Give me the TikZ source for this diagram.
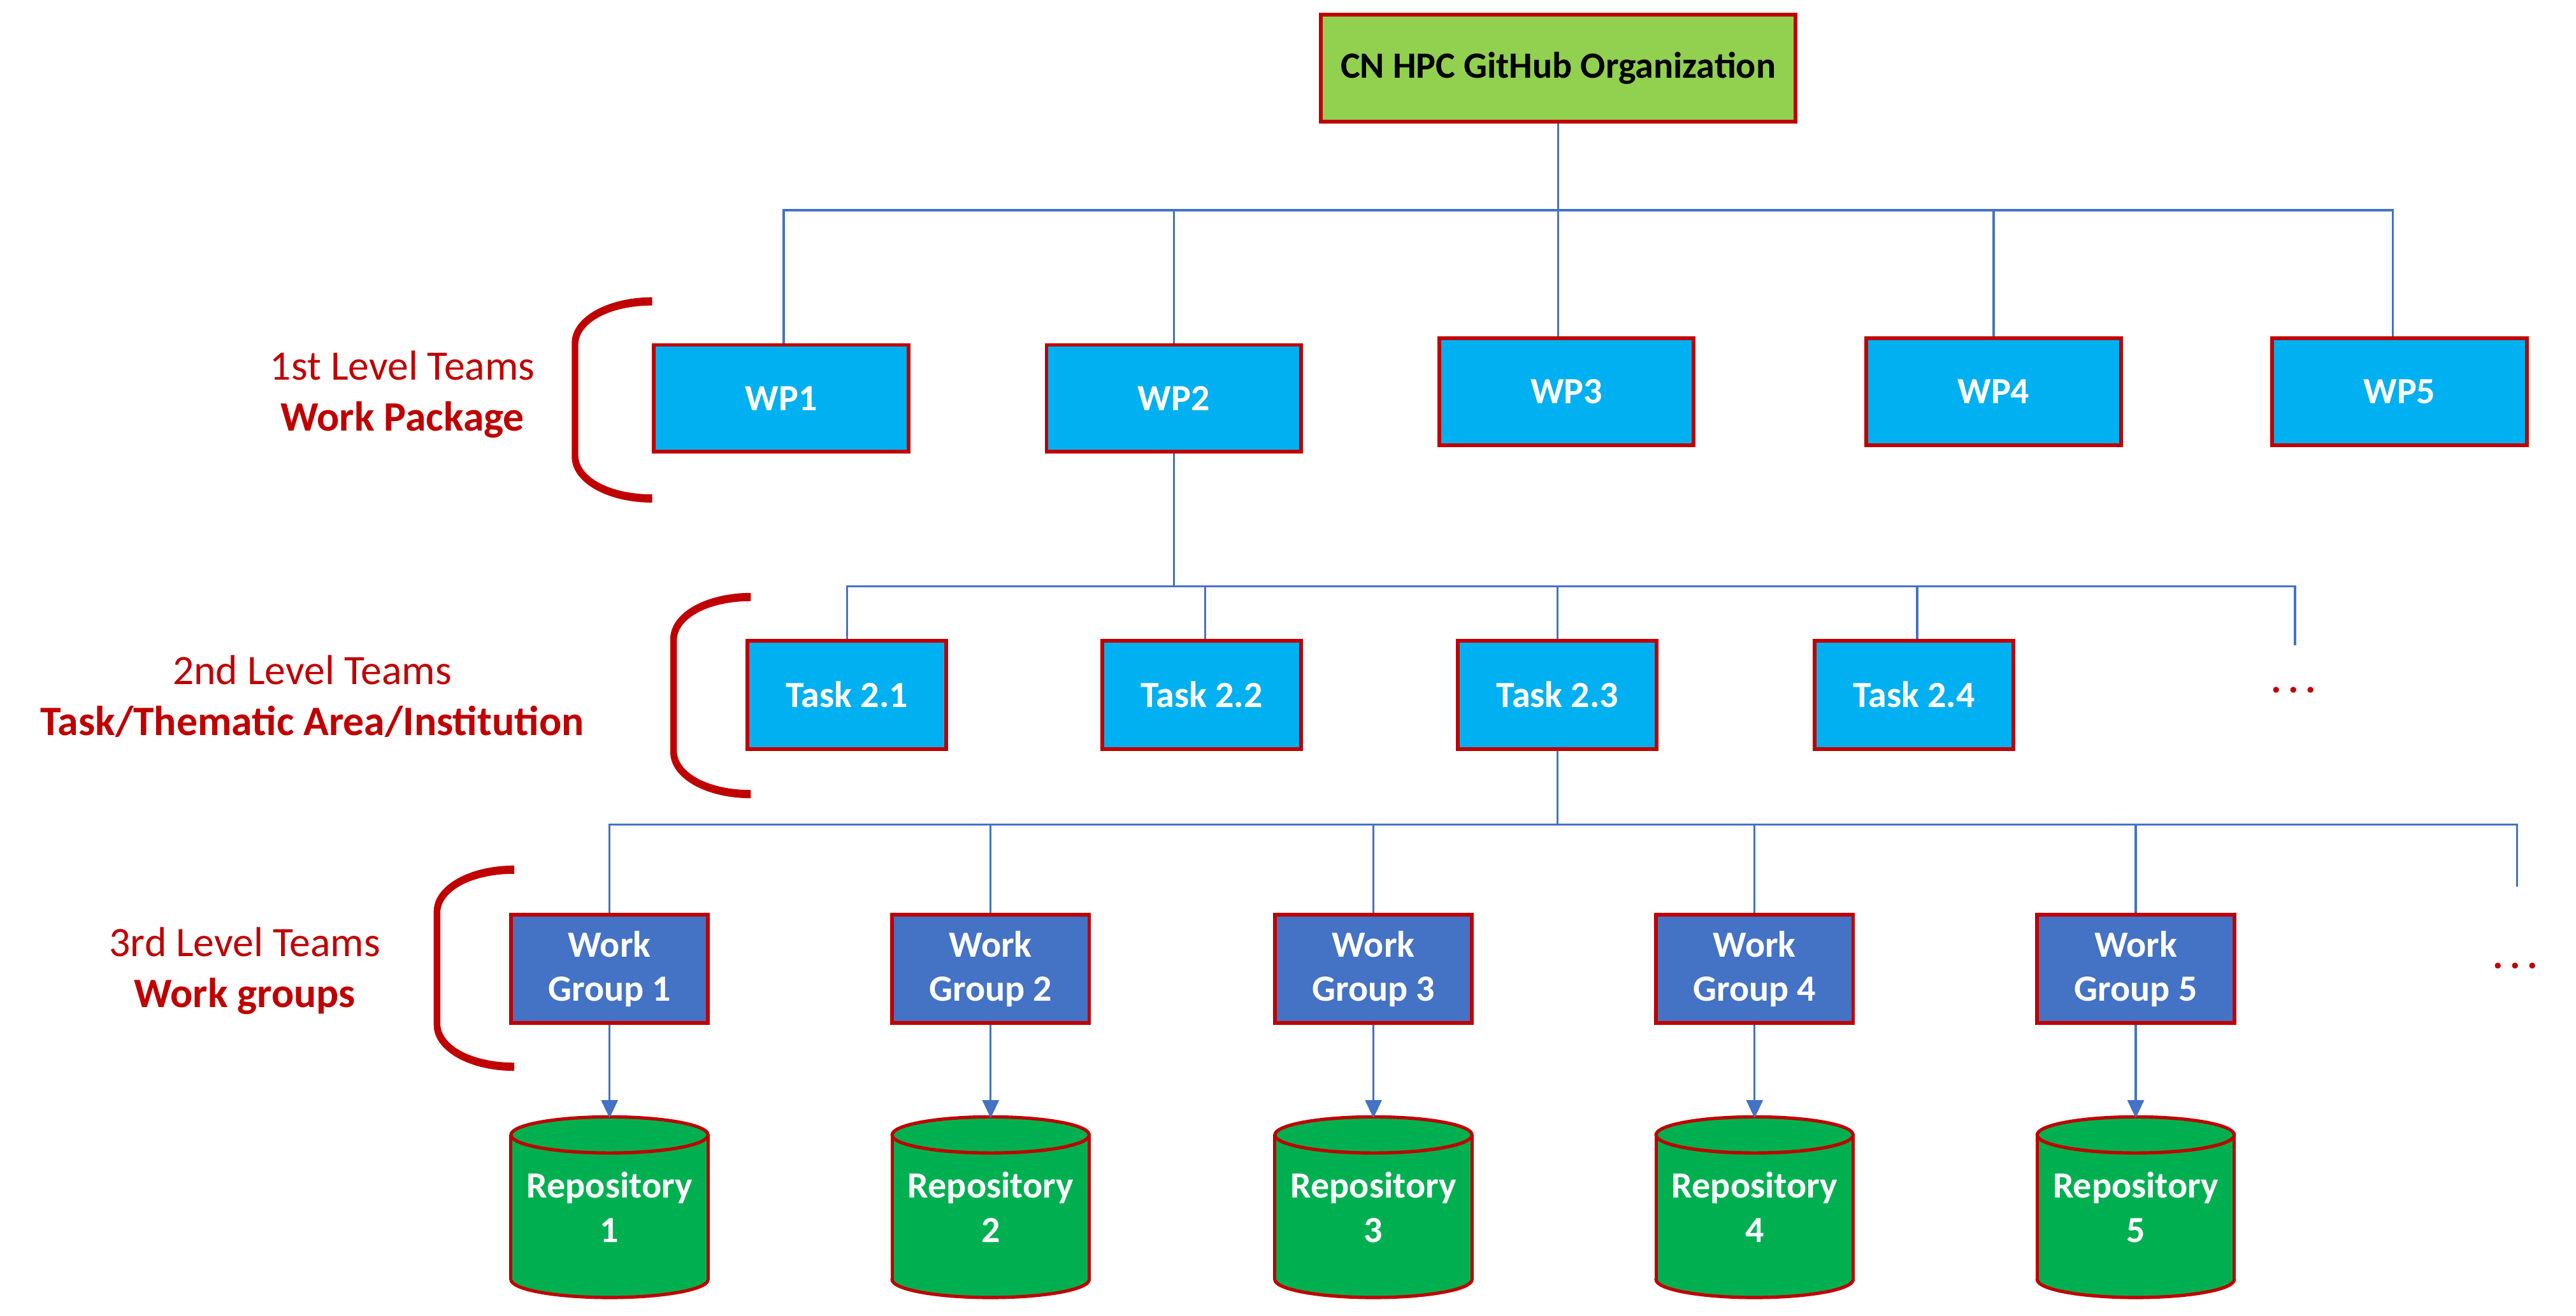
\documentclass[tikz,border=0pt]{standalone}
\usepackage{fontspec}
\setmainfont{Carlito}
\usetikzlibrary{arrows.meta}
\definecolor{bred}{HTML}{C00000}
\definecolor{lgreen}{HTML}{92D050}
\definecolor{cyanbox}{HTML}{00B0F0}
\definecolor{bluebox}{HTML}{4472C4}
\definecolor{repogreen}{HTML}{00B050}
\definecolor{linkblue}{HTML}{4472C4}
\begin{document}
\begin{tikzpicture}[x=1pt,y=-1pt,
  box/.style={draw=bred, line width=2.3pt, inner sep=0pt, align=center,
    font=\fontsize{22.5}{27}\selectfont\bfseries},
  topbox/.style={box, fill=lgreen, text=black, minimum width=289pt, minimum height=65pt},
  wpbox/.style={box, fill=cyanbox, text=white, minimum width=155pt, minimum height=65pt},
  taskbox/.style={box, fill=cyanbox, text=white, minimum width=121pt, minimum height=66pt},
  wgbox/.style={box, fill=bluebox, text=white, minimum width=120pt, minimum height=66pt},
  repotext/.style={inner sep=0pt, align=center, text=white, minimum width=120pt, minimum height=110pt,
    font=\fontsize{22.5}{27}\selectfont\bfseries},
  lab/.style={align=center, text=bred, inner sep=0pt, font=\fontsize{25.5}{31}\selectfont},
  more/.style={text=bred, inner sep=0pt, font=\fontsize{24}{27}\selectfont\bfseries},
  conn/.style={draw=linkblue, line width=1.3pt},
  arr/.style={conn, -{Triangle[length=11pt,width=10pt]}},
  brk/.style={fill=bred, draw=none}
]
\useasboundingbox (0,0) rectangle (1568,801);

% brackets
\foreach \bx/\by in {397/181, 457/361, 313/527}{
  \path[brk, shift={(\bx,\by)}]
    (0,0) .. controls (-27,0) and (-49,12) .. (-49,28) -- (-49,97)
    .. controls (-49,113) and (-27,125) .. (0,125) -- (0,120)
    .. controls (-25,120) and (-45,110) .. (-45,96) -- (-45,29)
    .. controls (-45,15) and (-25,5) .. (0,5) -- cycle;
}

% labels
\node[lab] (lab1) at (245,240) {1st Level Teams\\\textbf{Work Package}};
\node[lab] (lab2) at (190,424) {2nd Level Teams\\\textbf{Task/Thematic Area/Institution}};
\node[lab] (lab3) at (149,591) {3rd Level Teams\\\textbf{Work groups}};

% top
\node[topbox] (top) at (948.5,41.5) {CN HPC GitHub Organization};

% WPs
\node[wpbox] (wp1) at (475.5,242.5) {WP1};
\node[wpbox] (wp2) at (714.5,242.5) {WP2};
\node[wpbox] (wp3) at (953.5,238.5) {WP3};
\node[wpbox] (wp4) at (1213.5,238.5) {WP4};
\node[wpbox] (wp5) at (1460.5,238.5) {WP5};

\coordinate (b1) at (948.5,128);
\draw[conn] (top.south) -- (b1);
\draw[conn] ([xshift=1.5pt]wp1.north) |- (b1);
\draw[conn] (wp2.north) |- (b1);
\draw[conn] ([xshift=-5pt]wp3.north) |- (b1);
\draw[conn] (wp4.north) |- (b1);
\draw[conn] ([xshift=-4pt]wp5.north) |- (b1);

% tasks
\node[taskbox] (t1) at (515.5,423) {Task 2.1};
\node[taskbox] (t2) at (731.5,423) {Task 2.2};
\node[taskbox] (t3) at (948,423) {Task 2.3};
\node[taskbox] (t4) at (1165,423) {Task 2.4};
\node[more] (dots1) at (1396,420) {.\hspace{4pt}.\hspace{4pt}.};
\coordinate (d1) at (1397,393);

\coordinate (b2) at (714.5,357);
\draw[conn] (wp2.south) -- (b2);
\draw[conn] (t1.north) |- (b2);
\draw[conn] ([xshift=2pt]t2.north) |- (b2);
\draw[conn] (t3.north) |- (b2);
\draw[conn] ([xshift=2pt]t4.north) |- (b2);
\draw[conn] (d1) |- (b2);

% work groups
\node[wgbox] (wg1) at (371,590) {Work\\Group 1};
\node[wgbox] (wg2) at (603,590) {Work\\Group 2};
\node[wgbox] (wg3) at (836,590) {Work\\Group 3};
\node[wgbox] (wg4) at (1068,590) {Work\\Group 4};
\node[wgbox] (wg5) at (1300,590) {Work\\Group 5};
\node[more] (dots2) at (1531,588) {.\hspace{4pt}.\hspace{4pt}.};
\coordinate (d2) at (1532,540);

\coordinate (b3) at (948,502);
\draw[conn] (t3.south) -- (b3);
\foreach \n in {1,...,5}{ \draw[conn] (wg\n.north) |- (b3); }
\draw[conn] (d2) |- (b3);

% repositories
\foreach \n/\cx in {1/371, 2/603, 3/836, 4/1068, 5/1300}{
  \fill[repogreen, draw=bred, line width=2pt] (\cx,779) ellipse [x radius=60pt, y radius=11pt];
  \fill[repogreen] (\cx-60,691) rectangle (\cx+60,779);
  \draw[bred, line width=2pt] (\cx-60,691) -- (\cx-60,779) (\cx+60,691) -- (\cx+60,779);
  \filldraw[fill=repogreen, draw=bred, line width=2pt] (\cx,691) ellipse [x radius=60pt, y radius=11pt];
  \node[repotext] (repo\n) at (\cx,735) {Repository\\\n};
  \draw[arr] (wg\n.south) -- ([yshift=-1pt]repo\n.north);
}
\end{tikzpicture}
\end{document}
